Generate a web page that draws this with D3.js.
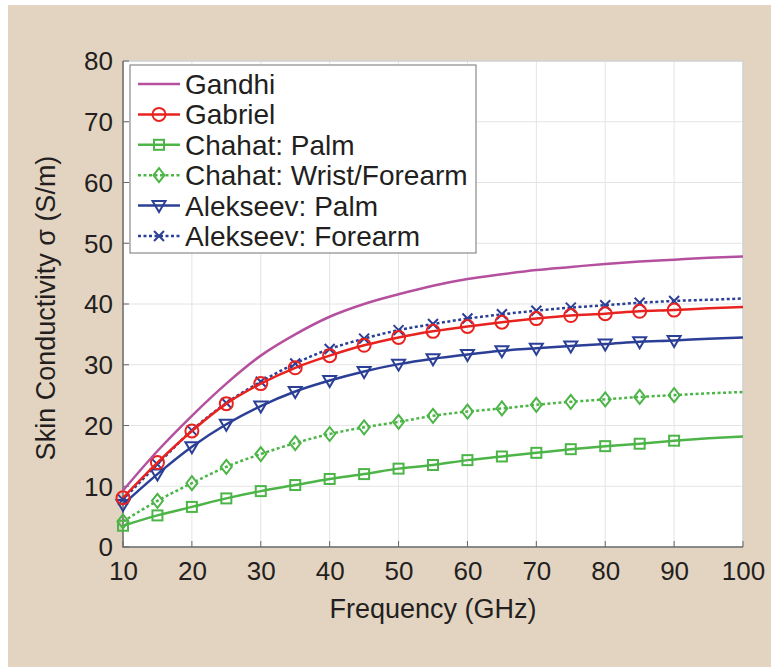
<!DOCTYPE html>
<html><head><meta charset="utf-8">
<script src="https://cdn.jsdelivr.net/npm/d3@7"></script>
<style>body{margin:0;background:#fff}svg{display:block}text{font-family:"Liberation Sans",Arial,sans-serif;fill:#231f20}</style>
</head><body><svg id="c" width="771" height="667"></svg>
<script>
const freq = [10,15,20,25,30,35,40,45,50,55,60,65,70,75,80,85,90,95,100];
const gandhi = [9.3,15.8,21.6,26.9,31.5,35.0,37.9,40.0,41.6,43.0,44.1,44.9,45.6,46.1,46.6,47.0,47.3,47.6,47.8];
const gabriel = [8.1,13.9,19.1,23.6,26.9,29.5,31.5,33.2,34.5,35.5,36.3,37.0,37.6,38.1,38.4,38.8,39.0,39.3,39.5];
const chahatPalm = [3.5,5.2,6.6,8.0,9.2,10.2,11.2,12.0,12.9,13.5,14.3,14.9,15.5,16.1,16.6,17.0,17.5,17.9,18.2];
const chahatWrist = [4.2,7.6,10.5,13.2,15.3,17.1,18.6,19.7,20.6,21.6,22.3,22.8,23.4,23.9,24.3,24.7,25.0,25.3,25.5];
const alekseevPalm = [7.0,12.0,16.5,20.2,23.2,25.6,27.4,28.9,30.1,31.0,31.7,32.3,32.7,33.1,33.4,33.8,34.0,34.3,34.5];
const alekseevForearm = [7.8,13.6,19.2,23.7,27.2,30.2,32.6,34.3,35.7,36.7,37.6,38.3,38.9,39.4,39.8,40.2,40.5,40.7,40.9];
const seriesNames = ["Gandhi","Gabriel","Chahat: Palm","Chahat: Wrist/Forearm","Alekseev: Palm","Alekseev: Forearm"];
const xTicks = [10,20,30,40,50,60,70,80,90,100];
const yTicks = [0,10,20,30,40,50,60,70,80];
const markerMaxFreq = 90;

const series = [
  {name:seriesNames[0], vals:gandhi, color:"#b4509e", dash:null, marker:null},
  {name:seriesNames[1], vals:gabriel, color:"#e8231f", dash:null, marker:"circle"},
  {name:seriesNames[2], vals:chahatPalm, color:"#4db548", dash:null, marker:"square"},
  {name:seriesNames[3], vals:chahatWrist, color:"#4db548", dash:"3,2.5", marker:"diamond"},
  {name:seriesNames[4], vals:alekseevPalm, color:"#2b3f96", dash:null, marker:"triangle"},
  {name:seriesNames[5], vals:alekseevForearm, color:"#2b3f96", dash:"3,2.5", marker:"x"}
];

const svg = d3.select("#c");
svg.append("rect").attr("x",8).attr("y",5).attr("width",771).attr("height",667).attr("fill","#e3d4c1");

const L=123,R=743,T=61,B=547;
const x = d3.scaleLinear().domain([10,100]).range([L,R]);
const y = d3.scaleLinear().domain([0,80]).range([B,T]);

svg.append("rect").attr("x",L).attr("y",T).attr("width",R-L).attr("height",B-T).attr("fill","#fff");

// grid
const g = svg.append("g");
g.selectAll("line.vg").data(xTicks).join("line").attr("x1",d=>x(d)).attr("x2",d=>x(d)).attr("y1",T).attr("y2",B).attr("stroke","#e4e4e4").attr("stroke-width",1);
g.selectAll("line.hg").data(yTicks).join("line").attr("y1",d=>y(d)).attr("y2",d=>y(d)).attr("x1",L).attr("x2",R).attr("stroke","#e4e4e4").attr("stroke-width",1);

// top/right border
svg.append("path").attr("d",`M${L},${T}H${R}V${B}`).attr("fill","none").attr("stroke","#c8c8c8").attr("stroke-width",1);

// axes
const xAxis = d3.axisBottom(x).tickValues(xTicks).tickSize(0).tickPadding(0);
const yAxis = d3.axisLeft(y).tickValues(yTicks).tickSize(0).tickPadding(0);
const xa = svg.append("g").attr("transform",`translate(0,${B})`).call(xAxis);
xa.select(".domain").remove();
xa.selectAll("text").attr("font-size",26).attr("dy",null).attr("y",33).style("font-family","Liberation Sans, Arial, sans-serif").attr("fill","#231f20");
const ya = svg.append("g").attr("transform",`translate(${L},0)`).call(yAxis);
ya.select(".domain").remove();
ya.selectAll("text").attr("font-size",26).attr("x",-10).attr("dy","0.34em").style("font-family","Liberation Sans, Arial, sans-serif").attr("fill","#231f20");

// inward ticks
svg.selectAll("line.xt").data(xTicks).join("line").attr("x1",d=>x(d)).attr("x2",d=>x(d)).attr("y1",B).attr("y2",B-6).attr("stroke","#666").attr("stroke-width",1);
svg.selectAll("line.yt").data(yTicks).join("line").attr("y1",d=>y(d)).attr("y2",d=>y(d)).attr("x1",L).attr("x2",L+6).attr("stroke","#666").attr("stroke-width",1);
svg.append("path").attr("d",`M${L},${T}V${B}H${R}`).attr("fill","none").attr("stroke","#6a6a6a").attr("stroke-width",1.5);

// titles
svg.append("text").attr("x",(L+R)/2).attr("y",618).attr("text-anchor","middle").attr("font-size",27).text("Frequency (GHz)");
svg.append("text").attr("transform",`translate(55,${(T+B)/2+4}) rotate(-90)`).attr("text-anchor","middle").attr("font-size",27).text("Skin Conductivity σ (S/m)");

// marker drawing
function drawMarker(sel, type, color){
  const sw=2;
  if(type==="circle") sel.append("circle").attr("r",6.5).attr("fill","none").attr("stroke",color).attr("stroke-width",sw);
  else if(type==="square") sel.append("rect").attr("x",-5).attr("y",-5).attr("width",10).attr("height",10).attr("fill","none").attr("stroke",color).attr("stroke-width",sw);
  else if(type==="diamond") sel.append("path").attr("d","M0,-7L5.5,0L0,7L-5.5,0Z").attr("fill","none").attr("stroke",color).attr("stroke-width",sw);
  else if(type==="triangle") sel.append("path").attr("d","M-6.5,-4.5H6.5L0,6.5Z").attr("fill","none").attr("stroke",color).attr("stroke-width",sw);
  else if(type==="x") sel.append("path").attr("d","M-5,-5L5,5M-5,5L5,-5").attr("fill","none").attr("stroke",color).attr("stroke-width",sw);
}

const line = d3.line().x((d,i)=>x(freq[i])).y(d=>y(d)).curve(d3.curveMonotoneX);
const plot = svg.append("g");
series.slice().reverse().forEach(s=>{
  plot.append("path").attr("d",line(s.vals)).attr("fill","none").attr("stroke",s.color).attr("stroke-width",2.5)
    .attr("stroke-dasharray",s.dash);
  if(s.marker){
    freq.forEach((f,i)=>{
      if(f<=markerMaxFreq){
        const m = plot.append("g").attr("transform",`translate(${x(f)},${y(s.vals[i])})`);
        drawMarker(m,s.marker,s.color);
      }
    });
  }
});

// legend
const lg = svg.append("g");
lg.append("rect").attr("x",130).attr("y",65).attr("width",346).attr("height",188).attr("fill","#fff").attr("stroke","#8a8a8a").attr("stroke-width",1.2);
series.forEach((s,i)=>{
  const cy = 84 + i*30.4;
  lg.append("line").attr("x1",138).attr("x2",180).attr("y1",cy).attr("y2",cy).attr("stroke",s.color).attr("stroke-width",2.5).attr("stroke-dasharray",s.dash);
  if(s.marker){ const m=lg.append("g").attr("transform",`translate(159,${cy})`); drawMarker(m,s.marker,s.color); }
  lg.append("text").attr("x",185).attr("y",cy).attr("dy","0.36em").attr("font-size",28).text(s.name);
});
</script></body></html>
